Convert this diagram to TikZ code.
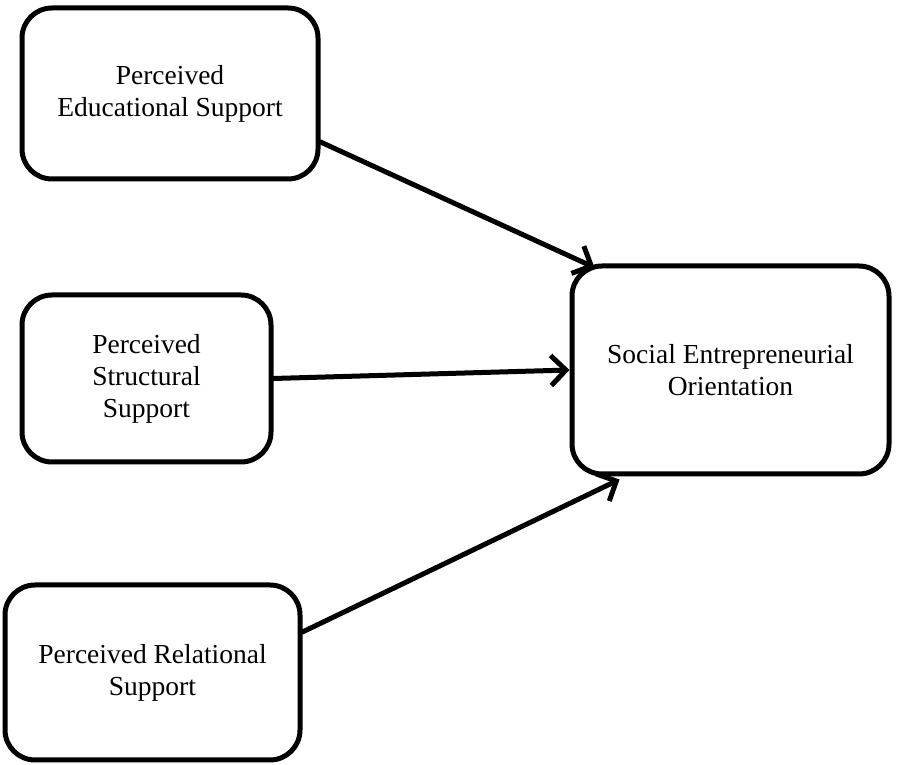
\documentclass[tikz,border=0pt]{standalone}
\usepackage{fontspec}
\setmainfont{Liberation Serif}
\usetikzlibrary{arrows.meta,calc}
\begin{document}
\begin{tikzpicture}[x=1pt,y=1pt,
  box/.style={draw,line width=5pt,rounded corners=30pt,align=center,inner sep=0pt,
    font=\fontsize{27.5}{32}\selectfont},
  link/.style={line width=5pt,line cap=round,-{Straight Barb[length=15pt,width=30pt,line width=5pt]}}]
\useasboundingbox (0,0) rectangle (911,765);
\node[box,minimum width=296pt,minimum height=171pt] (b1) at (170,671.5) {Perceived\\Educational Support};
\node[box,minimum width=249pt,minimum height=167pt] (b2) at (146.5,386.5) {Perceived\\Structural\\Support};
\node[box,minimum width=295pt,minimum height=175pt] (b3) at (152.5,92.5) {Perceived Relational\\Support};
\node[box,minimum width=317pt,minimum height=208pt] (b4) at (730.5,395) {Social Entrepreneurial\\Orientation};
\draw[link] ([yshift=-48.5pt]b1.east) -- ([xshift=25pt,yshift=-4pt]b4.north west);
\draw[link] (b2.east) -- (b4.west);
\draw[link] ([yshift=40.5pt]b3.east) -- ([xshift=50pt,yshift=-3pt]b4.south west);
\end{tikzpicture}
\end{document}
